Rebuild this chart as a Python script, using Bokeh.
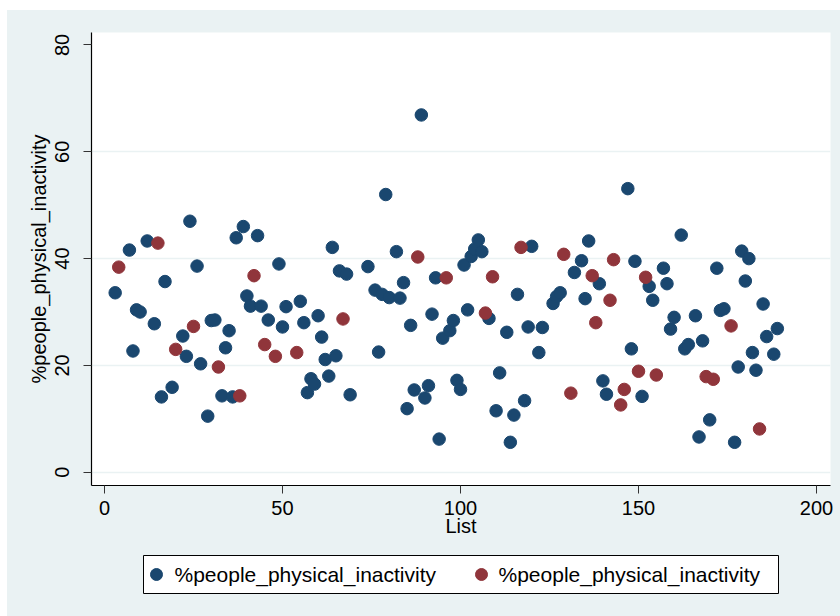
from bokeh.plotting import figure
from bokeh.models import Range1d, FixedTicker, Spacer
from bokeh.layouts import column, row
from bokeh.core.properties import value
from bokeh.embed import file_html
from bokeh.resources import INLINE

# Blue series (List index, value)
blue_x = [3, 7, 8, 9, 10, 12, 14, 16, 17, 19, 22, 23, 24, 26, 27, 29, 30, 31, 33, 34,
          35, 36, 37, 39, 40, 41, 43, 44, 46, 49, 50, 51, 55, 56, 57, 58, 59, 60, 61, 62,
          63, 64, 65, 66, 68, 69, 74, 76, 77, 78, 79, 80, 82, 83, 84, 85, 86, 87, 89, 90,
          91, 92, 93, 94, 95, 97, 98, 99, 100, 101, 102, 103, 104, 105, 106, 108, 110, 111, 113, 114,
          115, 116, 118, 119, 120, 122, 123, 126, 127, 128, 132, 134, 135, 136, 139, 140, 141, 147, 148, 149,
          151, 153, 154, 157, 158, 159, 160, 162, 163, 164, 166, 167, 168, 170, 172, 173, 174, 177, 178, 179,
          180, 181, 182, 183, 185, 186, 188, 189]
blue_y = [33.6, 41.6, 22.7, 30.4, 30.0, 43.3, 27.8, 14.1, 35.7, 15.9, 25.5, 21.7, 47.0, 38.6, 20.3, 10.5, 28.4, 28.5, 14.3, 23.3,
          26.5, 14.1, 43.9, 46.0, 33.0, 31.1, 44.3, 31.1, 28.5, 39.0, 27.2, 31.0, 32.0, 28.0, 14.9, 17.5, 16.5, 29.3, 25.3, 21.1,
          18.0, 42.1, 21.8, 37.7, 37.1, 14.5, 38.5, 34.1, 22.5, 33.3, 52.0, 32.7, 41.3, 32.6, 35.5, 11.9, 27.5, 15.4, 66.9, 13.9,
          16.2, 29.6, 36.4, 6.2, 25.1, 26.5, 28.4, 17.2, 15.5, 38.8, 30.4, 40.4, 41.8, 43.5, 41.3, 28.8, 11.5, 18.6, 26.2, 5.6,
          10.7, 33.3, 13.4, 27.2, 42.3, 22.4, 27.1, 31.6, 32.9, 33.6, 37.4, 39.6, 32.5, 43.3, 35.3, 17.1, 14.6, 53.1, 23.1, 39.5,
          14.2, 34.8, 32.2, 38.2, 35.3, 26.8, 29.0, 44.4, 23.1, 23.9, 29.3, 6.6, 24.6, 9.8, 38.2, 30.3, 30.6, 5.6, 19.7, 41.4,
          35.8, 40.0, 22.4, 19.1, 31.5, 25.4, 22.1, 26.9]

# Red series
red_x = [4, 15, 20, 25, 32, 38, 42, 45, 48, 54, 67, 88, 96, 107, 109, 117, 129, 131, 137, 138,
         142, 143, 145, 146, 150, 152, 155, 169, 171, 176, 184]
red_y = [38.4, 42.9, 23.0, 27.3, 19.7, 14.3, 36.8, 23.9, 21.7, 22.4, 28.7, 40.3, 36.4, 29.8, 36.6, 42.1, 40.8, 14.8, 36.8, 28.0,
         32.2, 39.8, 12.6, 15.5, 18.9, 36.5, 18.2, 17.9, 17.4, 27.4, 8.1]

x_ticks = [0, 50, 100, 150, 200]
y_ticks = [0, 20, 40, 60, 80]
y_grid = [0, 20, 40, 60]
series_label = "%people_physical_inactivity"
x_title = "List"
y_title = "%people_physical_inactivity"

BG = "#EAF2F3"
NAVY = "#1a476f"
MAROON = "#90353b"
FONT = "Liberation Sans"

# ---------------- main scatter ----------------
p = figure(frame_width=739, frame_height=453, output_backend="svg", toolbar_location=None,
           x_range=Range1d(-3.65, 203.93), y_range=Range1d(-2.49, 82.34),
           min_border_left=84, min_border_right=10, min_border_top=22, min_border_bottom=60)
p.border_fill_color = BG
p.background_fill_color = "white"
p.outline_line_color = None

p.scatter(blue_x, blue_y, size=12.5, fill_color=NAVY, line_color=NAVY)
p.scatter(red_x, red_y, size=12.5, fill_color=MAROON, line_color=MAROON)

p.xgrid.visible = False
p.ygrid.ticker = FixedTicker(ticks=y_grid)
p.ygrid.grid_line_color = BG
p.ygrid.grid_line_width = 1.5

p.xaxis.ticker = FixedTicker(ticks=x_ticks)
p.yaxis.ticker = FixedTicker(ticks=y_ticks)
for ax in (p.xaxis, p.yaxis):
    ax.axis_line_color = "black"
    ax.axis_line_width = 1.2
    ax.major_tick_line_color = "#333333"
    ax.major_tick_out = 8
    ax.major_tick_in = 0
    ax.minor_tick_line_color = None
    ax.major_label_text_font = FONT
    ax.major_label_text_font_size = "20px"
    ax.major_label_text_color = "black"
    ax.axis_label_text_font = FONT
    ax.axis_label_text_font_size = "20px"
    ax.axis_label_text_font_style = "normal"
    ax.axis_label_text_color = "black"

p.xaxis.axis_label = x_title
p.yaxis.axis_label = y_title
p.yaxis.major_label_orientation = "vertical"
p.xaxis.major_label_standoff = 7
p.xaxis.axis_label_standoff = -3
p.yaxis.major_label_standoff = 14
p.yaxis.axis_label_standoff = 3

# ---------------- legend strip (page pixel coordinates; frame aligned with p) ----------------
LEG_H = 71
LEG_TOP = 545          # page y of the strip's top edge
q = figure(width=833, height=LEG_H, output_backend="svg", toolbar_location=None,
           x_range=Range1d(91, 830), y_range=Range1d(LEG_TOP + LEG_H, LEG_TOP),
           min_border_left=84, min_border_right=10, min_border_top=0, min_border_bottom=0)
q.border_fill_color = BG
q.background_fill_color = BG
q.outline_line_color = None
q.axis.visible = False
q.grid.visible = False

q.quad(left=[143], right=[778], top=[555], bottom=[593],
       fill_color="white", line_color="black", line_width=1)
q.scatter([156], [574], size=12, fill_color=NAVY, line_color=NAVY)
q.scatter([481], [574], size=12, fill_color=MAROON, line_color=MAROON)
q.text(x=[174, 498], y=[574, 574], text=[series_label, series_label],
       text_font=value(FONT), text_font_size="21px", text_color="black",
       text_baseline="middle", text_align="left")

inner = column(p, q, styles={"background-color": BG})
layout = column(Spacer(height=10), row(Spacer(width=7), inner))
open("out.html", "w").write(file_html(layout, INLINE))
